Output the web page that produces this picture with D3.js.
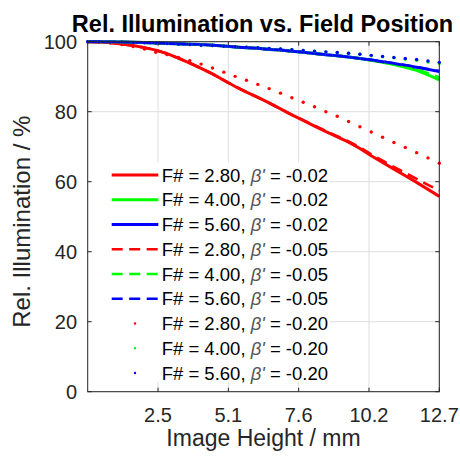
<!DOCTYPE html>
<html>
<head>
<meta charset="utf-8">
<script src="https://cdn.jsdelivr.net/npm/d3@7"></script>
<style>
  body { margin: 0; background: #fff; }
  text { font-family: "Liberation Sans", Arial, sans-serif; }
</style>
</head>
<body>
<div id="chart"></div>
<script>
// image height samples (mm), 32 points from 0 to 12.7
const imageHeight = d3.range(32).map((k) => (k * 12.7) / 31);

// relative illumination (%)
const red02 = [100, 99.9, 99.7, 99.35, 98.9, 98.3, 97.6, 96.6, 95.3, 93.9, 92.4, 90.8, 89.0, 87.2, 85.6, 84.1,
  82.5, 80.8, 79.1, 77.5, 75.9, 74.3, 72.8, 71.3, 69.5, 67.4, 65.5, 63.6, 61.7, 59.8, 57.8, 55.8];
const green02 = [100, 100, 99.95, 99.9, 99.85, 99.75, 99.65, 99.5, 99.4, 99.3, 99.2, 99.0, 98.8, 98.5, 98.3, 98.1,
  97.8, 97.6, 97.3, 97.0, 96.6, 96.3, 96.0, 95.6, 95.2, 94.7, 94.1, 93.5, 92.7, 91.8, 90.5, 89.1];
const blue02 = [100, 100, 99.95, 99.9, 99.85, 99.75, 99.65, 99.5, 99.4, 99.3, 99.2, 99.0, 98.8, 98.5, 98.3, 98.1,
  97.8, 97.6, 97.3, 97.0, 96.6, 96.3, 96.0, 95.6, 95.2, 94.8, 94.3, 93.8, 93.2, 92.7, 92.1, 91.5];
const red05 = [100, 99.9, 99.7, 99.35, 98.9, 98.3, 97.6, 96.6, 95.3, 93.9, 92.4, 90.8, 89.0, 87.2, 85.6, 84.1,
  82.5, 80.8, 79.1, 77.6, 76.0, 74.5, 73.0, 71.5, 69.8, 67.8, 66.0, 64.2, 62.5, 60.8, 59.1, 57.5];
const green05 = [100, 100, 99.95, 99.9, 99.85, 99.75, 99.65, 99.5, 99.4, 99.3, 99.2, 99.0, 98.8, 98.5, 98.3, 98.1,
  97.8, 97.6, 97.3, 97.0, 96.6, 96.3, 96.0, 95.6, 95.2, 94.7, 94.2, 93.6, 92.9, 92.1, 91.0, 89.8];
const blue05 = [100, 100, 99.95, 99.9, 99.85, 99.75, 99.65, 99.5, 99.4, 99.3, 99.2, 99.0, 98.8, 98.5, 98.3, 98.1,
  97.8, 97.6, 97.3, 97.0, 96.6, 96.3, 96.0, 95.6, 95.2, 94.8, 94.3, 93.8, 93.3, 92.8, 92.2, 91.6];
const red20 = [100, 99.9, 99.6, 99.2, 98.6, 97.9, 97.0, 96.3, 95.5, 94.6, 93.6, 92.5, 91.3, 90.1, 89.0, 87.8,
  86.6, 85.3, 84.0, 82.7, 81.4, 80.0, 78.7, 77.2, 75.7, 74.2, 72.7, 71.2, 69.8, 68.3, 66.8, 65.3];
const green20 = [100, 100, 99.9, 99.9, 99.8, 99.7, 99.6, 99.5, 99.3, 99.2, 99.0, 98.9, 98.7, 98.6, 98.4, 98.3,
  98.1, 97.9, 97.7, 97.5, 97.3, 97.1, 96.9, 96.7, 96.4, 96.0, 95.7, 95.4, 95.0, 94.7, 94.2, 93.8];
const blue20 = [100, 100, 99.9, 99.9, 99.8, 99.7, 99.6, 99.5, 99.3, 99.2, 99.0, 98.9, 98.7, 98.6, 98.4, 98.3,
  98.1, 97.9, 97.7, 97.5, 97.3, 97.1, 96.9, 96.7, 96.4, 96.1, 95.8, 95.5, 95.2, 94.9, 94.5, 94.1];

const xTicks = [2.54, 5.08, 7.62, 10.16, 12.7];
const xTickLabels = ["2.5", "5.1", "7.6", "10.2", "12.7"];
const yTicks = [0, 20, 40, 60, 80, 100];

const series = [
  { name: "F# = 2.80", beta: "-0.02", color: "#ff0000", style: "solid", values: red02 },
  { name: "F# = 4.00", beta: "-0.02", color: "#00ff00", style: "solid", values: green02 },
  { name: "F# = 5.60", beta: "-0.02", color: "#0000ff", style: "solid", values: blue02 },
  { name: "F# = 2.80", beta: "-0.05", color: "#ff0000", style: "dash", values: red05 },
  { name: "F# = 4.00", beta: "-0.05", color: "#00ff00", style: "dash", values: green05 },
  { name: "F# = 5.60", beta: "-0.05", color: "#0000ff", style: "dash", values: blue05 },
  { name: "F# = 2.80", beta: "-0.20", color: "#ff0000", style: "dot", values: red20 },
  { name: "F# = 4.00", beta: "-0.20", color: "#00ff00", style: "dot", values: green20 },
  { name: "F# = 5.60", beta: "-0.20", color: "#0000ff", style: "dot", values: blue20 },
];

const W = 460, H = 459;
const margin = { top: 41.7, right: 20.7, bottom: 67.3, left: 87.7 },
  width = W - margin.left - margin.right,
  height = H - margin.top - margin.bottom;

const axisColor = "#262626";

const svg = d3.select("#chart").append("svg")
  .attr("width", W).attr("height", H);

const g = svg.append("g")
  .attr("transform", `translate(${margin.left},${margin.top})`);

const x = d3.scaleLinear().domain([0, 12.7]).range([0, width]);
const y = d3.scaleLinear().domain([0, 100]).range([height, 0]);

// grid
g.append("g").selectAll("line").data(xTicks).join("line")
  .attr("x1", (d) => x(d)).attr("x2", (d) => x(d))
  .attr("y1", 0).attr("y2", height)
  .attr("stroke", "#dedede").attr("stroke-width", 1);
g.append("g").selectAll("line").data(yTicks).join("line")
  .attr("x1", 0).attr("x2", width)
  .attr("y1", (d) => y(d)).attr("y2", (d) => y(d))
  .attr("stroke", "#dedede").attr("stroke-width", 1);

// data
const line = d3.line()
  .x((d, i) => x(imageHeight[i]))
  .y((d) => y(d));

series.forEach((s) => {
  if (s.style === "dot") {
    g.append("g").selectAll("circle").data(s.values).join("circle")
      .attr("cx", (d, i) => x(imageHeight[i]))
      .attr("cy", (d) => y(d))
      .attr("r", 1.7)
      .attr("fill", s.color);
  } else {
    g.append("path").datum(s.values)
      .attr("fill", "none")
      .attr("stroke", s.color)
      .attr("stroke-width", s.style === "solid" ? 3 : 2.7)
      .attr("stroke-dasharray", s.style === "dash" ? "11,6.5" : null)
      .attr("d", line);
  }
});

// legend
const legend = g.append("g");
legend.append("rect")
  .attr("x", 1).attr("y", 121).attr("width", 241).attr("height", 219)
  .attr("fill", "#fff");
const rowH = 24.75;
series.forEach((s, i) => {
  const cy = 133.3 + i * rowH;
  if (s.style === "dot") {
    legend.append("circle").attr("cx", 47.3).attr("cy", cy).attr("r", 1.2).attr("fill", s.color);
  } else {
    legend.append("line")
      .attr("x1", 24).attr("x2", 70.6).attr("y1", cy).attr("y2", cy)
      .attr("stroke", s.color)
      .attr("stroke-width", s.style === "solid" ? 3 : 2.7)
      .attr("stroke-dasharray", s.style === "dash" ? "11,6.5" : null);
  }
  const t = legend.append("text")
    .attr("x", 74).attr("y", cy + 6.6)
    .attr("font-size", 18.5).attr("fill", "#000");
  t.append("tspan").text(s.name + ", ");
  t.append("tspan").attr("font-style", "italic").attr("fill", "#555").text("\u03b2'");
  t.append("tspan").text(" = " + s.beta);
});

// frame
g.append("rect")
  .attr("x", 0).attr("y", 0).attr("width", width).attr("height", height)
  .attr("fill", "none").attr("stroke", axisColor).attr("stroke-width", 1);

// inward ticks on all sides
const tl = 4;
xTicks.forEach((t) => {
  g.append("line").attr("x1", x(t)).attr("x2", x(t)).attr("y1", height).attr("y2", height - tl).attr("stroke", axisColor);
  g.append("line").attr("x1", x(t)).attr("x2", x(t)).attr("y1", 0).attr("y2", tl).attr("stroke", axisColor);
});
yTicks.forEach((t) => {
  g.append("line").attr("x1", 0).attr("x2", tl).attr("y1", y(t)).attr("y2", y(t)).attr("stroke", axisColor);
  g.append("line").attr("x1", width).attr("x2", width - tl).attr("y1", y(t)).attr("y2", y(t)).attr("stroke", axisColor);
});

// tick labels
g.append("g").selectAll("text").data(xTicks).join("text")
  .attr("x", (d) => x(d)).attr("y", height + 30.5)
  .attr("text-anchor", "middle").attr("font-size", 20).attr("fill", axisColor)
  .text((d, i) => xTickLabels[i]);
g.append("g").selectAll("text").data(yTicks).join("text")
  .attr("x", -10.7).attr("y", (d) => y(d) + 7)
  .attr("text-anchor", "end").attr("font-size", 20).attr("fill", axisColor)
  .text((d) => d);

// axis labels and title
svg.append("text")
  .attr("x", margin.left + width / 2).attr("y", 446)
  .attr("text-anchor", "middle").attr("font-size", 23).attr("fill", axisColor)
  .text("Image Height / mm");
svg.append("text")
  .attr("transform", `translate(29.5,${margin.top + height / 2 + 5}) rotate(-90)`)
  .attr("text-anchor", "middle").attr("font-size", 24).attr("fill", axisColor)
  .text("Rel. Illumination / %");
svg.append("text")
  .attr("x", 262.5).attr("y", 31.5)
  .attr("text-anchor", "middle").attr("font-size", 23.5).attr("font-weight", "bold").attr("fill", "#000")
  .text("Rel. Illumination vs. Field Position");
</script>
</body>
</html>
